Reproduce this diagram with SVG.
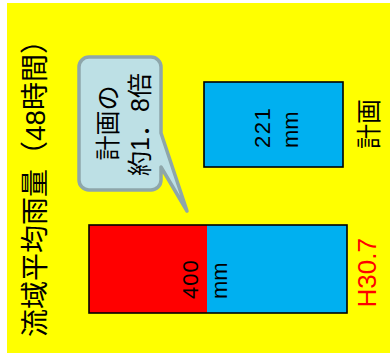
<svg xmlns="http://www.w3.org/2000/svg" width="390" height="358" viewBox="0 0 390 358">
<style>
.jp{font-family:"Liberation Sans","Noto Sans CJK JP",sans-serif;fill:#000}
.num{font-family:"Liberation Sans","Noto Sans CJK JP",sans-serif;font-size:22px;fill:#000}
.bar{stroke:#000;stroke-width:1.6}
</style>
<rect x="0" y="0" width="390" height="358" fill="#fff"/>
<rect id="background" x="7" y="3" width="383" height="350" fill="#ffff00"/>
<g id="title">
<text class="jp" font-size="28" text-anchor="middle" transform="translate(45,181.5) rotate(-90)">流域平均雨量（48時間）</text>
</g>
<g id="callout">
<path d="M89,57 H151 A10,10 0 0 1 161,67 V133 L187,211 L161,167 V180 A10,10 0 0 1 151,190 H89 A10,10 0 0 1 79,180 V67 A10,10 0 0 1 89,57 Z" fill="#bde0e5" stroke="#8ea6aa" stroke-width="3.5" stroke-linejoin="round"/>
<text class="jp" font-size="25" text-anchor="middle" transform="translate(117,123) rotate(-90)">計画の</text>
<text class="jp" font-size="25" text-anchor="middle" transform="translate(149,124.5) rotate(-90)">約1．8倍</text>
</g>
<g id="bar-plan">
<rect class="bar" x="204" y="82" width="139" height="85" fill="#00b0f0"/>
<text class="num" letter-spacing="1.5" transform="translate(270,148) rotate(-90)">221</text>
<text class="num" transform="translate(298,148) rotate(-90)">mm</text>
</g>
<g id="label-plan">
<text class="jp" font-size="25" transform="translate(378,149) rotate(-90)">計画</text>
</g>
<g id="bar-h30">
<rect x="89" y="225" width="118" height="88" fill="#ff0000"/>
<rect x="207" y="225" width="140" height="88" fill="#00b0f0"/>
<rect class="bar" x="89" y="225" width="258" height="88" fill="none"/>
<text class="num" letter-spacing="1" transform="translate(198,299) rotate(-90)">400</text>
<text class="num" transform="translate(227,299) rotate(-90)">mm</text>
</g>
<g id="label-h30">
<text font-family="Liberation Sans, sans-serif" font-size="26" fill="#ff0000" transform="translate(376,307.5) rotate(-90)">H30.7</text>
</g>
</svg>
